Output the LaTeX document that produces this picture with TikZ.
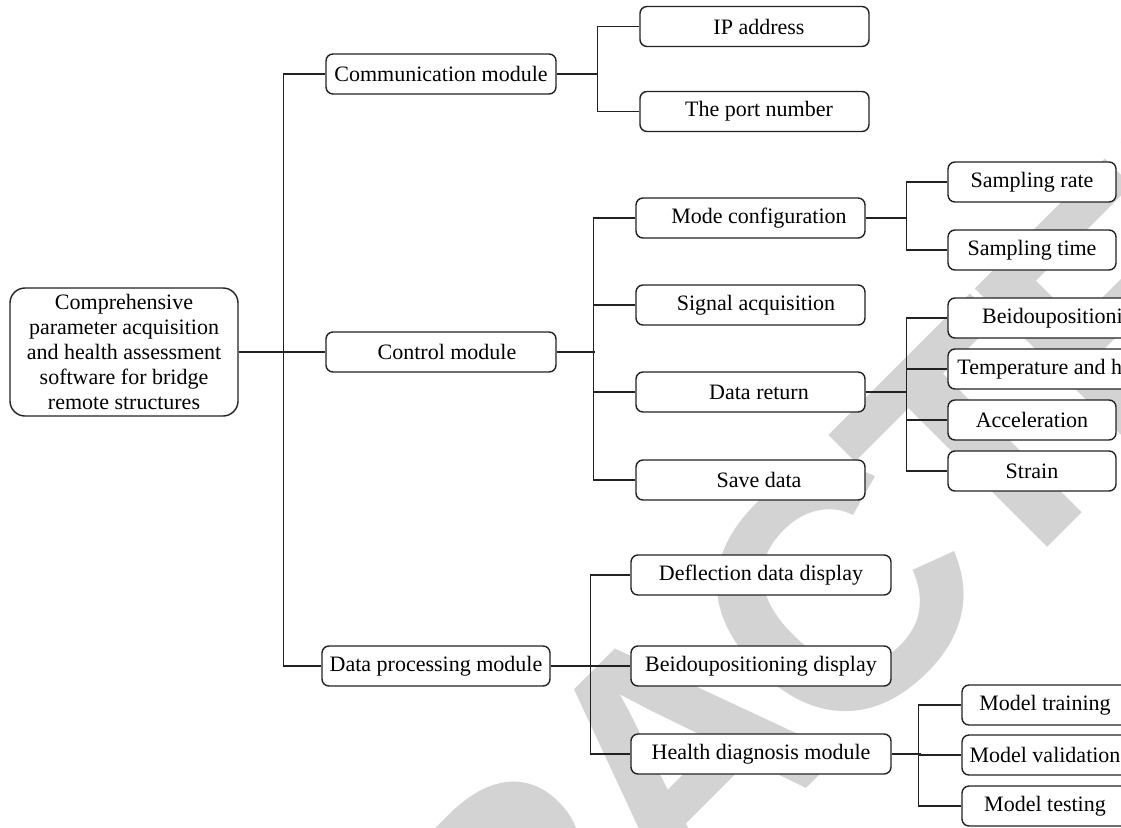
\documentclass[tikz,border=0pt]{standalone}
\usepackage{fontspec}
\setmainfont{Liberation Serif}
\newfontfamily\wmfont{Liberation Sans}
\usetikzlibrary{calc}
\definecolor{wmgray}{RGB}{211,211,211}
\definecolor{ink}{RGB}{34,34,34}
\begin{document}
\begin{tikzpicture}[x=1pt,y=-1pt,
  box/.style={draw=ink, line width=1.4pt, rounded corners=7pt, fill=white,
    minimum height=40pt, inner sep=0pt, font=\fontsize{22}{25}\selectfont},
  link/.style={draw=ink, line width=1.4pt},
  stamp/.style={rotate=45, text=wmgray, inner sep=0pt,
    font=\wmfont\bfseries\fontsize{340}{340}\selectfont}]
\useasboundingbox (0,0) rectangle (1121,827);
\begin{scope}
\clip (0,0) rectangle (1121,827);
% background stamp, set letter by letter along a 45 degree line
\coordinate (wmA) at (678,752);
\foreach \ch/\k [count=\i] in {R/-2.722, E/-2.0275, T/-1.3885, R/-0.722, A/0,
                              C/0.722, T/1.3885, E/2.0275, D/2.722}
  \node[stamp] (stamp\i) at ($(wmA)+(-45:{\k*310})$) {\ch};

% root
\node[box, minimum width=228pt, minimum height=128pt, rounded corners=15pt,
  align=center] (root) at (124,352)
  {Comprehensive\\parameter acquisition\\and health assessment\\software for bridge\\remote structures};

% first level
\node[box, minimum width=230pt] (comm) at (441,74) {Communication module};
\node[box, minimum width=230pt] (ctrl) at (441,352) {\hspace*{12pt}Control module};
\node[box, minimum width=228pt] (dp)   at (436,666) {Data processing module};

% communication
\node[box, minimum width=229pt] (ip)   at (754.5,26.5)  {\hspace*{9pt}IP address};
\node[box, minimum width=229pt] (port) at (754.5,111.5) {\hspace*{9pt}The port number};

% control
\node[box, minimum width=229pt] (mode) at (750.5,218) {\hspace*{17pt}Mode configuration};
\node[box, minimum width=229pt] (sig)  at (750.5,305) {\hspace*{11pt}Signal acquisition};
\node[box, minimum width=229pt] (ret)  at (750.5,392) {\hspace*{17pt}Data return};
\node[box, minimum width=229pt] (save) at (750.5,480) {\hspace*{17pt}Save data};

\node[box, minimum width=168pt] (srate) at (1032,182) {Sampling rate};
\node[box, minimum width=168pt] (stime) at (1032,250) {Sampling time};

\node[box, minimum width=231pt] (beid)   at (1063.5,318) {Beidoupositioning};
\node[box, minimum width=252pt] (temp)   at (1074,369)   {Temperature and humidity};
\node[box, minimum width=168pt] (acc)    at (1032,420)   {Acceleration};
\node[box, minimum width=168pt] (strain) at (1032,471)   {Strain};

% data processing
\node[box, minimum width=260pt] (defl)   at (761,575) {Deflection data display};
\node[box, minimum width=260pt] (bdisp)  at (761,666) {Beidoupositioning display};
\node[box, minimum width=260pt] (health) at (761,754) {Health diagnosis module};

\node[box, minimum width=166pt] (mtrain) at (1045,705) {Model training};
\node[box, minimum width=166pt] (mval)   at (1045,755) {Model validation};
\node[box, minimum width=166pt] (mtest)  at (1045,806) {Model testing};

% connectors
\draw[link] (root.east) -- (ctrl.west);
\draw[link] (comm.west) -- ++(-42,0) |- (dp.west);

\draw[link] (comm.east) -- ++(41,0);
\draw[link] (ip.west) -- ++(-42,0) |- (port.west);

\draw[link] (ctrl.east) -- ++(38,0);
\draw[link] (mode.west) -- ++(-42,0) |- (save.west);
\draw[link] (sig.west) -- ++(-42,0);
\draw[link] (ret.west) -- ++(-42,0);

\draw[link] (mode.east) -- ++(41,0);
\draw[link] (srate.west) -- ++(-41,0) |- (stime.west);

\draw[link] (ret.east) -- ++(41,0);
\draw[link] (beid.west) -- ++(-41,0) |- (strain.west);
\draw[link] (temp.west) -- ++(-41,0);
\draw[link] (acc.west) -- ++(-41,0);

\draw[link] (dp.east) -- (bdisp.west);
\draw[link] (defl.west) -- ++(-40,0) |- (health.west);

\draw[link] (health.east) -- ++(29,0);
\draw[link] (mtrain.west) -- ++(-43,0) |- (mtest.west);
\draw[link] (mval.west) -- ++(-43,0);
\end{scope}
\end{tikzpicture}
\end{document}
